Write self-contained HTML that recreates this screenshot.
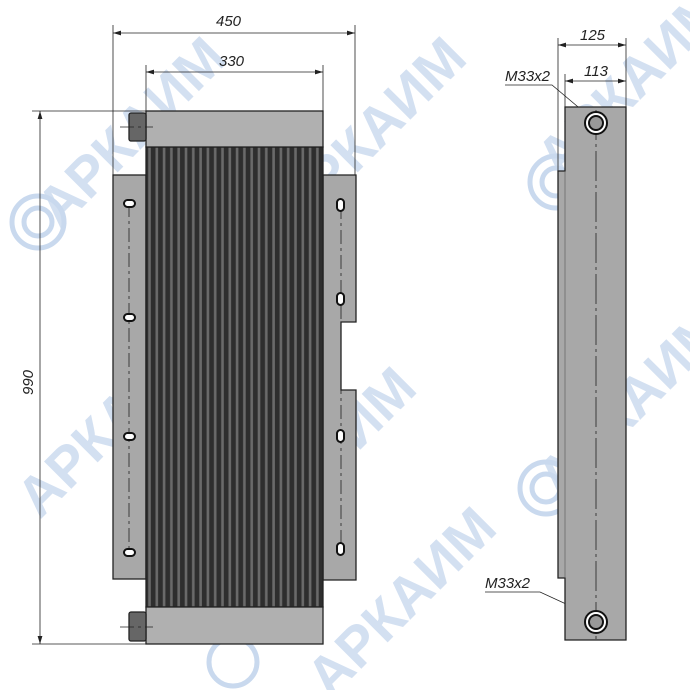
<!DOCTYPE html>
<html><head><style>html,body{margin:0;background:#fff;width:690px;height:690px;overflow:hidden}svg{display:block;overflow:hidden}</style></head><body>
<svg width="690" height="690" viewBox="0 0 690 690" xmlns="http://www.w3.org/2000/svg" font-family="Liberation Sans, sans-serif">
<defs>
<pattern id="fins" x="146" y="0" width="7.3" height="10" patternUnits="userSpaceOnUse">
<rect width="7.3" height="10" fill="#2e2e2e"/>
<rect x="2.2" width="2.6" height="10" fill="#6a6a6a"/>
</pattern>
<marker id="ar" markerWidth="10" markerHeight="6" refX="10" refY="3" orient="auto-start-reverse"><path d="M0,0 L10,3 L0,6 z" fill="#222"/></marker>
<clipPath id="cl"><rect width="690" height="690"/></clipPath>
</defs>
<g clip-path="url(#cl)">
<g fill="#c9d9ee" opacity="0.8" font-weight="bold" font-size="56">
<text transform="translate(40,520) rotate(-45)">АРКАИМ</text>
<text transform="translate(250,560) rotate(-45)">АРКАИМ</text>
<text transform="translate(300,230) rotate(-45)">АРКАИМ</text>
<text transform="translate(560,500) rotate(-45)">АРКАИМ</text>
<text transform="translate(60,230) rotate(-45)">АРКАИМ</text>
<text transform="translate(560,180) rotate(-45)">АРКАИМ</text>
<text transform="translate(330,700) rotate(-45)">АРКАИМ</text>
</g>
<g fill="none" stroke="#c9d9ee" stroke-width="5">
<circle cx="38" cy="222" r="26"/><circle cx="38" cy="222" r="14"/>
<circle cx="556" cy="182" r="26"/><circle cx="556" cy="182" r="14"/>
<circle cx="546" cy="488" r="26"/><circle cx="546" cy="488" r="14"/>
<circle cx="233" cy="662" r="24"/>
</g>
</g>
<g stroke="#222" stroke-width="0.8" fill="none">
<line x1="113" y1="25" x2="113" y2="175"/><line x1="355" y1="25" x2="355" y2="175"/>
<line x1="113" y1="33" x2="355" y2="33" marker-start="url(#ar)" marker-end="url(#ar)"/>
<line x1="146" y1="65" x2="146" y2="111"/><line x1="323" y1="65" x2="323" y2="111"/>
<line x1="146" y1="72" x2="323" y2="72" marker-start="url(#ar)" marker-end="url(#ar)"/>
<line x1="32" y1="111" x2="146" y2="111"/><line x1="32" y1="644" x2="146" y2="644"/>
<line x1="40" y1="111" x2="40" y2="644" marker-start="url(#ar)" marker-end="url(#ar)"/>
<line x1="558" y1="38" x2="558" y2="171"/><line x1="626" y1="38" x2="626" y2="107"/>
<line x1="558" y1="45" x2="626" y2="45" marker-start="url(#ar)" marker-end="url(#ar)"/>
<line x1="565" y1="74" x2="565" y2="107"/>
<line x1="565" y1="81" x2="626" y2="81" marker-start="url(#ar)" marker-end="url(#ar)"/>
<polyline points="505,85 552,85 590,117"/>
<polyline points="485,592 540,592 590,615"/>
</g>
<g font-style="italic" font-size="15" fill="#222">
<text x="216" y="26">450</text><text x="219" y="66">330</text>
<text transform="translate(33,395) rotate(-90)">990</text>
<text x="580" y="40">125</text><text x="584" y="76">113</text>
<text x="505" y="81">M33x2</text><text x="485" y="588">M33x2</text>
</g>
<g stroke="#222" stroke-width="1.3">
<rect x="113" y="175" width="33" height="404" fill="#a8a8a8"/>
<path d="M323,175 H356 V322 H341 V390 H356 V580 H323 Z" fill="#a8a8a8"/>
<rect x="146" y="147" width="177" height="460" fill="url(#fins)"/>
<rect x="146" y="111" width="177" height="36" fill="#b0b0b0"/>
<rect x="146" y="607" width="177" height="37" fill="#b0b0b0"/>
<rect x="129" y="113" width="17" height="28" rx="2" fill="#666"/>
<rect x="129" y="612" width="17" height="29" rx="2" fill="#666"/>
</g>
<g stroke="#222" stroke-width="0.8" stroke-dasharray="14,4,3,4" fill="none">
<line x1="129" y1="203" x2="129" y2="553"/><line x1="341" y1="205" x2="341" y2="549"/>
<line x1="120" y1="127" x2="153" y2="127"/><line x1="120" y1="627" x2="153" y2="627"/>
</g>
<g fill="#fff" stroke="#111" stroke-width="2">
<rect x="124" y="200" width="11" height="7" rx="3.5"/><rect x="124" y="314" width="11" height="7" rx="3.5"/>
<rect x="124" y="433" width="11" height="7" rx="3.5"/><rect x="124" y="549" width="11" height="7" rx="3.5"/>
<rect x="337" y="199" width="7" height="12" rx="3.5"/><rect x="337" y="293" width="7" height="12" rx="3.5"/>
<rect x="337" y="430" width="7" height="12" rx="3.5"/><rect x="337" y="543" width="7" height="12" rx="3.5"/>
</g>
<path d="M565,107 H626 V640 H565 V578 H558 V171 H565 Z" fill="#a8a8a8" stroke="#222" stroke-width="1.3"/>
<line x1="565" y1="171" x2="565" y2="578" stroke="#555" stroke-width="0.6"/>
<line x1="596" y1="110" x2="596" y2="640" stroke="#222" stroke-width="0.8" stroke-dasharray="30,4,3,4"/>
<g stroke="#111" stroke-width="2"><circle cx="596" cy="123" r="11" fill="#fff"/><circle cx="596" cy="123" r="7" fill="#999"/>
<circle cx="596" cy="622" r="11" fill="#fff"/><circle cx="596" cy="622" r="7" fill="#999"/></g>
</svg>
</body></html>
